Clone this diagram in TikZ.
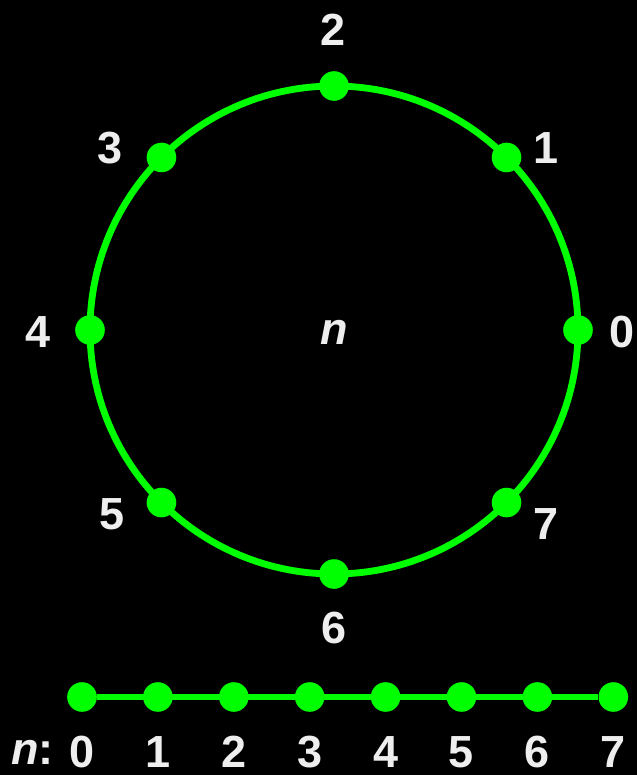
\documentclass[tikz,border=0pt]{standalone}
\usepackage{fontspec}
\setmainfont{Liberation Sans}
\usetikzlibrary{calc}
\definecolor{ringgreen}{HTML}{00FF00}
\definecolor{labgray}{HTML}{EEEEEE}
\tikzset{
 dot/.style={circle,fill=ringgreen,inner sep=0pt,minimum size=0.74cm},
 lab/.style={text=labgray,inner sep=0pt,font=\fontsize{32}{32}\selectfont\bfseries},
}

\begin{document}
\begin{tikzpicture}[x=0.025cm,y=-0.025cm]
%\draw[help lines] (0,0) grid (637,775);
\fill[black] (0,0) rectangle (637,775);

\coordinate (c) at (334,330);
\draw[ringgreen,line width=0.17cm] (c) circle[radius=244];
\foreach \k in {0,...,7}
 \node[dot] (p\k) at ($(c)+(-\k*45:244)$) {};
\foreach \k/\x/\y in {0/622/332,1/546/148,2/333/30,3/110/148,4/38/332,5/112/514,6/334/628,7/546/524}
 \node[lab] (l\k) at (\x,\y) {\k};
\node[lab] (n) at (334,332) {\itshape n};

% the line
\foreach \i in {0,...,7}{
 \node[dot] (b\i) at (82+75.9*\i,697) {};
 \node[lab] (m\i) at (82+75.9*\i,752) {\i};
}
\draw[ringgreen,line width=0.16cm] (b0) -- (b7);
\node[lab,anchor=east] (nl) at (54,752) {\textit{n}:};
\end{tikzpicture}
\end{document}
